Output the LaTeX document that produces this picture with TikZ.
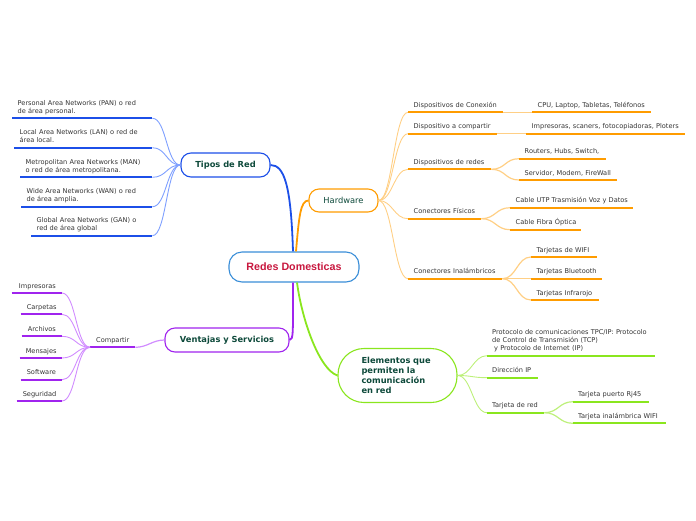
\documentclass[tikz,border=0pt]{standalone}
\usepackage{fontspec}
\setmainfont{DejaVu Sans}
\newfontfamily\arialfont{Liberation Sans}
\definecolor{cblue}{HTML}{1C4FE8}
\definecolor{lblue}{HTML}{7FA0FF}
\definecolor{corange}{HTML}{FF9C00}
\definecolor{lorange}{HTML}{FFCF85}
\definecolor{cpurple}{HTML}{A024EE}
\definecolor{lpurple}{HTML}{D18CFF}
\definecolor{cgreen}{HTML}{8AE61E}
\definecolor{lgreen}{HTML}{BDF07A}
\definecolor{cbord}{HTML}{3A8ED8}
\definecolor{tgreen}{HTML}{0E4A3B}
\definecolor{tred}{HTML}{C8173E}
\definecolor{tgray}{HTML}{333333}
\newcommand\ml[1]{\mbox{#1\rule[-1.8pt]{0pt}{1pt}}}
\newcommand\undl[2]{\draw[#1] (#2.south west) -- (#2.south east);}
\begin{document}
\begin{tikzpicture}[x=1pt,y=-1pt,
  leaf/.style={inner xsep=5.5pt, inner ysep=3pt,
    font=\fontsize{6.6}{7.9}\selectfont, text=tgray, align=left, anchor=south west},
  leafr/.style={leaf, align=right, anchor=south east, inner xsep=6pt},
  mainbox/.style={draw, line width=1.1pt, fill=white, rounded corners=10pt,
    font=\fontsize{8.3}{10}\selectfont\bfseries, text=tgreen, inner sep=0pt},
  ulb/.style={cblue, line width=2pt},
  ulo/.style={corange, line width=2pt},
  ulp/.style={cpurple, line width=2pt},
  ulg/.style={cgreen, line width=2pt},
  cb/.style={lblue, line width=0.9pt},
  co/.style={lorange, line width=0.9pt},
  cp/.style={lpurple, line width=0.9pt},
  cg/.style={lgreen, line width=0.9pt},
  trunk/.style={line width=1.8pt}
]
\useasboundingbox (0,0) rectangle (696,520);

% main nodes
\node[mainbox, draw=cbord, rounded corners=13pt, minimum width=130pt, minimum height=30pt,
  font=\arialfont\fontsize{10.7}{12}\selectfont\bfseries, text=tred] (C) at (294,267) {Redes Domesticas};
\node[mainbox, draw=cblue, minimum width=89pt, minimum height=24pt] (tipos) at (225.5,165) {Tipos de Red};
\node[mainbox, draw=corange, minimum width=69pt, minimum height=23pt,
  font=\fontsize{8.3}{10}\selectfont] (hw) at (343.5,200.5) {Hardware};
\node[mainbox, draw=cpurple, minimum width=124pt, minimum height=24pt] (vs) at (227,340) {Ventajas y Servicios};
\node[mainbox, draw=cgreen, rounded corners=26pt, minimum width=119pt, minimum height=54pt,
  text width=72pt, align=left, font=\fontsize{8.3}{9.8}\selectfont\bfseries] (el) at (397.5,375.5)
  {Elementos que\\permiten la\\comunicación\\en red};

% trunk connectors
\draw[trunk, cblue] ([xshift=-1pt]C.north) .. controls +(-2,-65) and +(14,0) .. (tipos.east);
\draw[trunk, corange] ([xshift=2pt]C.north) .. controls +(3,-35) and +(-8,0) .. (hw.west);
\draw[trunk, cpurple] ([xshift=-1pt]C.south) .. controls +(0,50) and +(4,0) .. (vs.east);
\draw[trunk, cgreen] ([xshift=3pt]C.south) .. controls +(5,38) and +(-18,-6) .. (el.west);

% Tipos de Red children
\node[leaf, text width=129pt] (pan) at (12,118.3) {\ml{Personal Area Networks (PAN) o red}\\\ml{de área personal.}};
\node[leaf, text width=127pt] (lan) at (14,147.7) {\ml{Local Area Networks (LAN) o red de}\\\ml{área local.}};
\node[leaf, text width=121pt] (man) at (20,177.3) {\ml{Metropolitan Area Networks (MAN)}\\\ml{o red de área metropolitana.}};
\node[leaf, text width=120pt] (wan) at (21,206.7) {\ml{Wide Area Networks (WAN) o red}\\\ml{de área amplia.}};
\node[leaf, text width=110pt] (gan) at (31,235.7) {\ml{Global Area Networks (GAN) o}\\\ml{red de área global}};
\foreach \n in {pan,lan,man,wan,gan}{
  \draw[cb] (tipos.west) .. controls +(-14,0) and +(14,0) .. (\n.south east);
  \undl{ulb}{\n}
}

% Hardware children
\node[leaf, text width=84pt] (hd1) at (408,112.3) {\ml{Dispositivos de Conexión}};
\node[leaf, text width=78pt] (hd2) at (408,133.7) {\ml{Dispositivo a compartir}};
\node[leaf, text width=72pt] (hd3) at (408,169.3) {\ml{Dispositivos de redes}};
\node[leaf, text width=62pt] (hd4) at (408,218.7) {\ml{Conectores Físicos}};
\node[leaf, text width=83pt] (hd5) at (408,278.7) {\ml{Conectores Inalámbricos}};
\foreach \n in {hd1,hd2,hd3,hd4,hd5}{
  \draw[co] (hw.east) .. controls +(14,0) and +(-14,0) .. (\n.south west);
  \undl{ulo}{\n}
}
\node[leaf, text width=108pt] (hc1) at (532,112.3) {\ml{CPU, Laptop, Tabletas, Teléfonos}};
\node[leaf, text width=148pt] (hc2) at (526,133.7) {\ml{Impresoras, scaners, fotocopiadoras, Ploters}};
\node[leaf, text width=76pt] (hc3) at (519,158.7) {\ml{Routers, Hubs, Switch,}};
\node[leaf, text width=87pt] (hc4) at (519,180) {\ml{Servidor, Modem, FireWall}};
\node[leaf, text width=112pt] (hc5) at (510,207.7) {\ml{Cable UTP Trasmisión Voz y Datos}};
\node[leaf, text width=60pt] (hc6) at (510,229.7) {\ml{Cable Fibra Óptica}};
\node[leaf, text width=55pt] (hc7) at (531,257) {\ml{Tarjetas de WIFI}};
\node[leaf, text width=60pt] (hc8) at (531,278.7) {\ml{Tarjetas Bluetooth}};
\node[leaf, text width=57pt] (hc9) at (531,300) {\ml{Tarjetas Infrarojo}};
\foreach \p/\c in {hd1/hc1,hd2/hc2,hd3/hc3,hd3/hc4,hd4/hc5,hd4/hc6,hd5/hc7,hd5/hc8,hd5/hc9}{
  \draw[co, line width=1.2pt] (\p.south east) .. controls +(14,0) and +(-14,0) .. (\c.south west);
  \undl{ulo}{\c}
}

% Ventajas y Servicios
\node[leaf, text width=33pt, inner xsep=6pt] (comp) at (90,347.3) {\ml{Compartir}};
\draw[cp, line width=1.2pt] (vs.west) .. controls +(-12,0) and +(12,0) .. (comp.south east);
\undl{ulp}{comp}
\node[leafr, text width=38pt] (imp) at (62,293) {\ml{Impresoras}};
\node[leafr, text width=29pt] (car) at (62,314.3) {\ml{Carpetas}};
\node[leafr, text width=28pt] (arc) at (62,336.3) {\ml{Archivos}};
\node[leafr, text width=30pt] (men) at (62,358) {\ml{Mensajes}};
\node[leafr, text width=29pt] (sof) at (62,379.7) {\ml{Software}};
\node[leafr, text width=33pt] (seg) at (62,401) {\ml{Seguridad}};
\foreach \n in {imp,car,arc,men,sof,seg}{
  \draw[cp] (comp.south west) .. controls +(-14,0) and +(14,0) .. (\n.south east);
  \undl{ulp}{\n}
}

% Elementos children
\node[leaf, text width=158pt, inner xsep=5pt] (e1) at (487,355.7)
  {\ml{Protocolo de comunicaciones TPC/IP: Protocolo}\\\ml{de Control de Transmisión (TCP)}\\\ml{\hspace{2pt}y Protocolo de Internet (IP)}};
\node[leaf, text width=41pt, inner xsep=5pt] (e2) at (487,377.7) {\ml{Dirección IP}};
\node[leaf, text width=47pt, inner xsep=5pt] (e3) at (487,412.7) {\ml{Tarjeta de red}};
\foreach \n in {e1,e2,e3}{
  \draw[cg] (el.east) .. controls +(14,0) and +(-14,0) .. (\n.south west);
  \undl{ulg}{\n}
}
\node[leaf, text width=66pt, inner xsep=5pt] (e4) at (573,401.7) {\ml{Tarjeta puerto Rj45}};
\node[leaf, text width=83pt, inner xsep=5pt] (e5) at (573,423.3) {\ml{Tarjeta inalámbrica WIFI}};
\foreach \n in {e4,e5}{
  \draw[cg, line width=1.2pt] (e3.south east) .. controls +(14,0) and +(-14,0) .. (\n.south west);
  \undl{ulg}{\n}
}
\end{tikzpicture}
\end{document}
